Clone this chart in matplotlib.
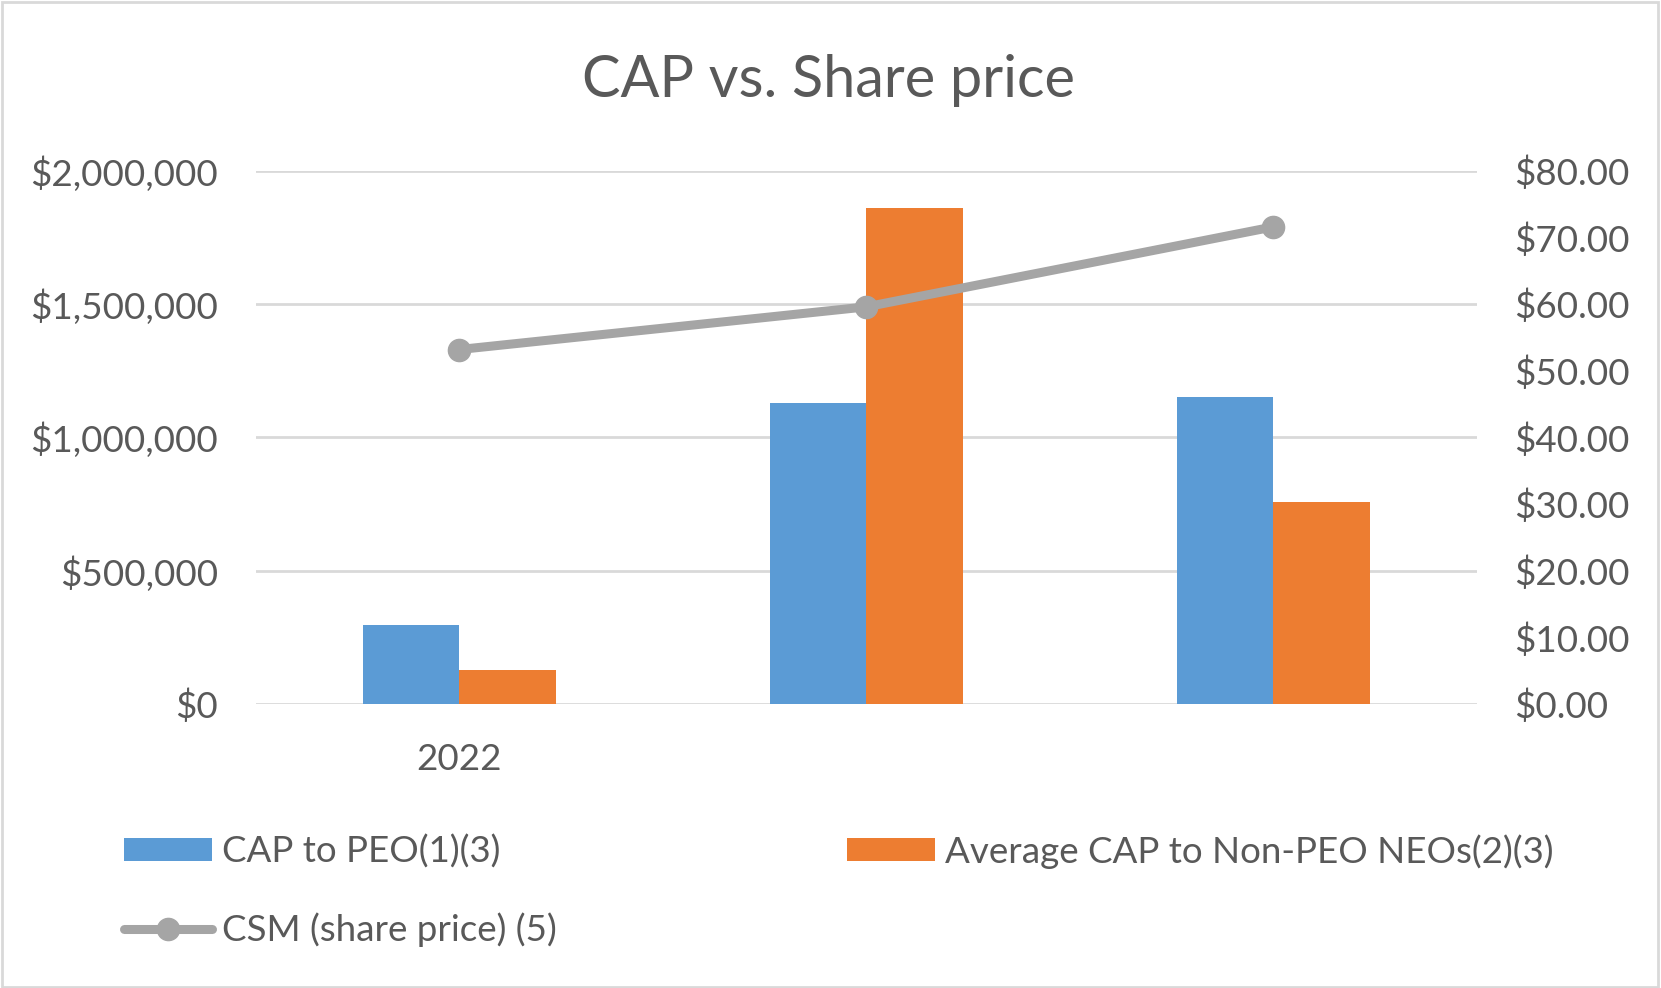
import matplotlib
matplotlib.use("Agg")
import matplotlib.pyplot as plt
import numpy as np
from matplotlib.ticker import FuncFormatter
from matplotlib.patches import Rectangle

# data
categories = ["2022", "", ""]
cap_peo = [298000, 1128000, 1152000]
cap_non_peo = [127000, 1862000, 758000]
share_price = [53.2, 59.6, 71.6]

blue = "#5B9BD5"
orange = "#ED7D31"
gray = "#A5A5A5"
text_col = "#595959"
grid_col = "#D9D9D9"

plt.rcParams["font.family"] = ["Lato", "DejaVu Sans"]

fig = plt.figure(figsize=(16.61, 9.88), dpi=100)
ax = fig.add_axes([0.154, 0.2874, 0.735, 0.5396])
ax2 = ax.twinx()

x = np.arange(len(categories))
w = 0.237
ax.bar(x - w / 2, cap_peo, w, color=blue, label="CAP to PEO(1)(3)", zorder=2)
ax.bar(x + w / 2, cap_non_peo, w, color=orange, label="Average CAP to Non-PEO NEOs(2)(3)", zorder=2)
ln, = ax2.plot(x, share_price, color=gray, lw=6.5, marker="o", markersize=16,
               solid_capstyle="round", label="CSM (share price) (5)", zorder=3)

ax.set_xlim(-0.5, 2.5)
ax.set_ylim(0, 2000000)
ax2.set_ylim(0, 80)
ax.set_yticks(np.arange(0, 2000001, 500000))
ax2.set_yticks(np.arange(0, 81, 10))
ax.yaxis.set_major_formatter(FuncFormatter(lambda v, p: f"${v:,.0f}"))
ax2.yaxis.set_major_formatter(FuncFormatter(lambda v, p: f"${v:,.2f}"))
ax.set_xticks(x)
ax.set_xticklabels(categories)

ax.grid(axis="y", color=grid_col, lw=2, zorder=0)
ax.set_axisbelow(True)
for a in (ax, ax2):
    for s in a.spines.values():
        s.set_visible(False)
    a.tick_params(length=0, labelsize=26.5, labelcolor=text_col)
ax.tick_params(axis="y", pad=27)
ax2.tick_params(axis="y", pad=27)
ax.tick_params(axis="x", pad=28)

fig.text(0.499, 0.919, "CAP vs. Share price", ha="center", va="center",
         fontsize=41.5, color=text_col)

h1, l1 = ax.get_legend_handles_labels()
handles = [h1[0], ln, h1[1]]
labels = [l1[0], ln.get_label(), l1[1]]
leg = fig.legend(handles, labels, ncol=2, loc="upper left",
                 bbox_to_anchor=(0.0748, 0.156), frameon=False, fontsize=26.5,
                 borderpad=0, borderaxespad=0,
                 handlelength=2.39, handleheight=0.57, handletextpad=0.26,
                 columnspacing=7.9, labelspacing=1.19, labelcolor=text_col)

fig.patches.append(Rectangle((0.001, 0.001), 0.997, 0.997, transform=fig.transFigure,
                             fill=False, edgecolor=grid_col, lw=2))

fig.savefig("out.png", dpi=100)
